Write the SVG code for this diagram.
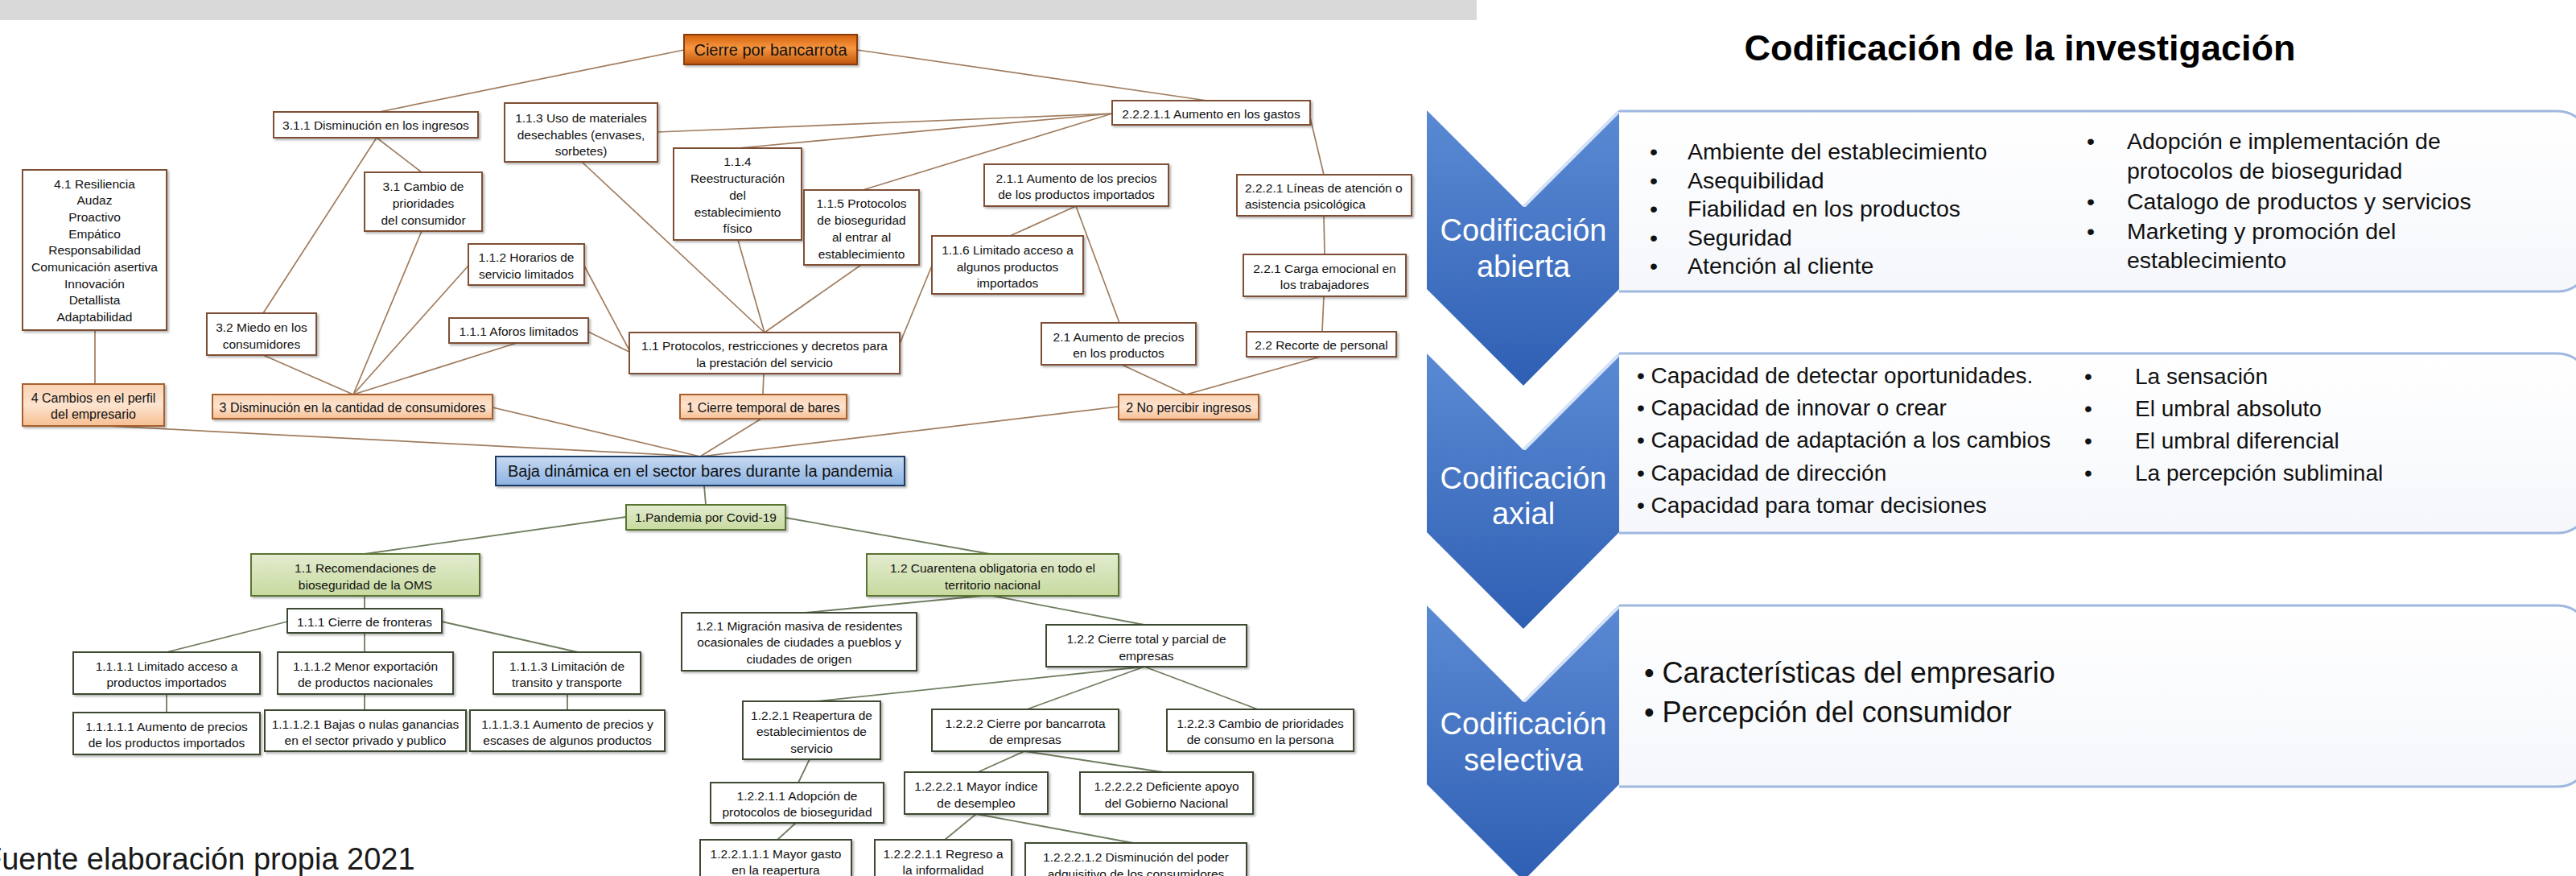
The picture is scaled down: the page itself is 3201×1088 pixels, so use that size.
<svg xmlns="http://www.w3.org/2000/svg" width="3201" height="1088" viewBox="0 0 3201 1088">
<style>
text{font-family:"Liberation Sans",Arial,sans-serif;fill:#111}
.t{font-size:15.5px;text-anchor:middle}
.tl{font-size:15.5px;text-anchor:start}
.t16{font-size:16px;text-anchor:middle}
.t20{font-size:20px;text-anchor:middle}
.b{fill:#fff;stroke:#7f4f35;stroke-width:2}
.o{fill:url(#gOrange);stroke:#8a3b0c;stroke-width:2}
.lo{fill:url(#gLO);stroke:#a8602e;stroke-width:2}
.bl{fill:url(#gBlue);stroke:#1f3a66;stroke-width:2}
.gr{fill:url(#gGreen);stroke:#5a7431;stroke-width:2}
.w{fill:#fff;stroke:#3d4a33;stroke-width:2}
rect.b,rect.o,rect.lo,rect.bl,rect.gr,rect.w{filter:url(#sh)}
.c1{stroke:#a07c5e;stroke-width:1.7;fill:none}
.c2{stroke:#6f7d60;stroke-width:1.8;fill:none}
.chev{fill:url(#gChev)}
.hl{stroke:#d3e2f6;stroke-width:4;fill:none;stroke-linecap:round}
.pbox{fill:url(#gBox);stroke:#9fb8e0;stroke-width:3}
.lab{font-size:38px;fill:#fff;text-anchor:middle}
.r28{font-size:28.5px}
.r28b{font-size:28px}
.r36{font-size:36px}
.bul{text-anchor:middle}
</style>
<defs>
<filter id="sh" x="-10%" y="-20%" width="130%" height="160%"><feDropShadow dx="2" dy="2" stdDeviation="1.5" flood-color="#000" flood-opacity="0.3"/></filter>
<linearGradient id="gOrange" x1="0" y1="0" x2="0" y2="1"><stop offset="0" stop-color="#d4620f"/><stop offset="0.45" stop-color="#f7963f"/><stop offset="1" stop-color="#c0550c"/></linearGradient>
<linearGradient id="gLO" x1="0" y1="0" x2="0" y2="1"><stop offset="0" stop-color="#fbd3b3"/><stop offset="0.5" stop-color="#fde3cf"/><stop offset="1" stop-color="#f7bf92"/></linearGradient>
<linearGradient id="gBlue" x1="0" y1="0" x2="0" y2="1"><stop offset="0" stop-color="#c6d9f1"/><stop offset="1" stop-color="#8db3e2"/></linearGradient>
<linearGradient id="gGreen" x1="0" y1="0" x2="0" y2="1"><stop offset="0" stop-color="#e3ecd0"/><stop offset="1" stop-color="#c8da9f"/></linearGradient>
<linearGradient id="gChev" x1="0" y1="0" x2="0" y2="1"><stop offset="0" stop-color="#5b8ad4"/><stop offset="1" stop-color="#2f5fb3"/></linearGradient>
<linearGradient id="gBox" x1="0" y1="0" x2="0" y2="1"><stop offset="0" stop-color="#ffffff"/><stop offset="1" stop-color="#f5f7fb"/></linearGradient>
</defs>

<rect x="0" y="0" width="1835" height="25" fill="#d9d9d9"/>

<g id="connectors">
<line class="c1" x1="850" y1="62" x2="471" y2="139"/>
<line class="c1" x1="1065" y1="62" x2="1500" y2="125"/>
<line class="c1" x1="1382" y1="141" x2="817" y2="164"/>
<line class="c1" x1="1382" y1="141" x2="917" y2="184"/>
<line class="c1" x1="1382" y1="141" x2="1072" y2="236"/>
<line class="c1" x1="1628" y1="146" x2="1645" y2="217"/>
<line class="c1" x1="1645" y1="268" x2="1646" y2="316"/>
<line class="c1" x1="1645" y1="368" x2="1643" y2="412"/>
<line class="c1" x1="1337" y1="256" x2="1255" y2="293"/>
<line class="c1" x1="1337" y1="256" x2="1391" y2="401"/>
<line class="c1" x1="468" y1="171" x2="327" y2="389"/>
<line class="c1" x1="468" y1="171" x2="524" y2="214"/>
<line class="c1" x1="524" y1="287" x2="439" y2="490"/>
<line class="c1" x1="327" y1="441" x2="439" y2="490"/>
<line class="c1" x1="642" y1="426" x2="439" y2="490"/>
<line class="c1" x1="582" y1="330" x2="439" y2="490"/>
<line class="c1" x1="726" y1="330" x2="782" y2="435"/>
<line class="c1" x1="731" y1="412" x2="782" y2="437"/>
<line class="c1" x1="723" y1="201" x2="950" y2="413"/>
<line class="c1" x1="917" y1="298" x2="950" y2="413"/>
<line class="c1" x1="1070" y1="329" x2="950" y2="413"/>
<line class="c1" x1="1158" y1="330" x2="1118" y2="427"/>
<line class="c1" x1="949" y1="464" x2="948" y2="490"/>
<line class="c1" x1="1394" y1="453" x2="1474" y2="490"/>
<line class="c1" x1="1641" y1="443" x2="1474" y2="490"/>
<line class="c1" x1="118" y1="410" x2="118" y2="477"/>
<line class="c1" x1="132" y1="529" x2="870" y2="567"/>
<line class="c1" x1="612" y1="506" x2="870" y2="567"/>
<line class="c1" x1="946" y1="520" x2="870" y2="567"/>
<line class="c1" x1="1390" y1="505" x2="870" y2="567"/>
<line class="c2" x1="875" y1="603" x2="877" y2="627"/>
<line class="c2" x1="778" y1="642" x2="453" y2="688"/>
<line class="c2" x1="976" y1="643" x2="1230" y2="688"/>
<line class="c2" x1="453" y1="740" x2="453" y2="756"/>
<line class="c2" x1="357" y1="772" x2="207" y2="810"/>
<line class="c2" x1="453" y1="786" x2="453" y2="810"/>
<line class="c2" x1="549" y1="772" x2="718" y2="810"/>
<line class="c2" x1="207" y1="862" x2="207" y2="885"/>
<line class="c2" x1="453" y1="862" x2="453" y2="882"/>
<line class="c2" x1="705" y1="862" x2="705" y2="882"/>
<line class="c2" x1="1221" y1="740" x2="1000" y2="761"/>
<line class="c2" x1="1233" y1="740" x2="1422" y2="776"/>
<line class="c2" x1="1422" y1="828" x2="1015" y2="871"/>
<line class="c2" x1="1422" y1="828" x2="1276" y2="881"/>
<line class="c2" x1="1422" y1="828" x2="1563" y2="881"/>
<line class="c2" x1="1006" y1="943" x2="992" y2="972"/>
<line class="c2" x1="989" y1="1022" x2="966" y2="1043"/>
<line class="c2" x1="1273" y1="933" x2="1215" y2="959"/>
<line class="c2" x1="1273" y1="933" x2="1445" y2="959"/>
<line class="c2" x1="1213" y1="1011" x2="1174" y2="1043"/>
<line class="c2" x1="1213" y1="1011" x2="1408" y2="1047"/>
</g>

<g id="n-cierre-bancarrota"><rect class="o" x="850" y="43" width="215" height="37"/><text class="t20" x="957.5" y="69">Cierre por bancarrota</text></g>
<g id="n-311"><rect class="b" x="340" y="139" width="254" height="32"/><text class="t" x="467" y="160.5">3.1.1 Disminución en los ingresos</text></g>
<g id="n-113"><rect class="b" x="627" y="128" width="190" height="73"/><text class="t"><tspan x="722" y="151.5">1.1.3 Uso de materiales</tspan><tspan x="722" y="172.5">desechables (envases,</tspan><tspan x="722" y="192.5">sorbetes)</tspan></text></g>
<g id="n-41"><rect class="b" x="28" y="211" width="179" height="199"/><text class="t"><tspan x="117.5" y="233.5">4.1 Resiliencia</tspan><tspan x="117.5" y="254">Audaz</tspan><tspan x="117.5" y="274.5">Proactivo</tspan><tspan x="117.5" y="295.5">Empático</tspan><tspan x="117.5" y="316">Responsabilidad</tspan><tspan x="117.5" y="336.5">Comunicación asertiva</tspan><tspan x="117.5" y="357.5">Innovación</tspan><tspan x="117.5" y="378">Detallista</tspan><tspan x="117.5" y="398.5">Adaptabilidad</tspan></text></g>
<g id="n-31"><rect class="b" x="453" y="214" width="146" height="73"/><text class="t"><tspan x="526" y="236.5">3.1 Cambio de</tspan><tspan x="526" y="257.5">prioridades</tspan><tspan x="526" y="278.5">del consumidor</tspan></text></g>
<g id="n-112"><rect class="b" x="582" y="303" width="144" height="51"/><text class="t"><tspan x="654" y="324.5">1.1.2 Horarios de</tspan><tspan x="654" y="345.5">servicio limitados</tspan></text></g>
<g id="n-114"><rect class="b" x="837" y="184" width="159" height="114"/><text class="t"><tspan x="916.5" y="205.5">1.1.4</tspan><tspan x="916.5" y="226.5">Reestructuración</tspan><tspan x="916.5" y="247.5">del</tspan><tspan x="916.5" y="268.5">establecimiento</tspan><tspan x="916.5" y="288.5">físico</tspan></text></g>
<g id="n-115"><rect class="b" x="999" y="236" width="143" height="93"/><text class="t"><tspan x="1070.5" y="257.5">1.1.5 Protocolos</tspan><tspan x="1070.5" y="278.5">de bioseguridad</tspan><tspan x="1070.5" y="299.5">al entrar al</tspan><tspan x="1070.5" y="320.5">establecimiento</tspan></text></g>
<g id="n-22211"><rect class="b" x="1382" y="125" width="246" height="30"/><text class="t" x="1505" y="146.5">2.2.2.1.1 Aumento en los gastos</text></g>
<g id="n-211"><rect class="b" x="1223" y="204" width="229" height="52"/><text class="t"><tspan x="1337.5" y="226.5">2.1.1 Aumento de los precios</tspan><tspan x="1337.5" y="246.5">de los productos importados</tspan></text></g>
<g id="n-2221"><rect class="b" x="1537" y="217" width="217" height="51"/><text class="tl"><tspan x="1547" y="238.5">2.2.2.1 Líneas de atención o</tspan><tspan x="1547" y="258.5">asistencia psicológica</tspan></text></g>
<g id="n-116"><rect class="b" x="1158" y="293" width="188" height="72"/><text class="t"><tspan x="1252" y="315.5">1.1.6 Limitado acceso a</tspan><tspan x="1252" y="336.5">algunos productos</tspan><tspan x="1252" y="356.5">importados</tspan></text></g>
<g id="n-221"><rect class="b" x="1545" y="316" width="202" height="52"/><text class="t"><tspan x="1646" y="338.5">2.2.1 Carga emocional en</tspan><tspan x="1646" y="358.5">los trabajadores</tspan></text></g>
<g id="n-32"><rect class="b" x="257" y="389" width="136" height="52"/><text class="t"><tspan x="325" y="411.5">3.2 Miedo en los</tspan><tspan x="325" y="432.5">consumidores</tspan></text></g>
<g id="n-111-aforos"><rect class="b" x="558" y="395" width="173" height="31"/><text class="t" x="644.5" y="416.5">1.1.1 Aforos limitados</text></g>
<g id="n-11-protocolos"><rect class="b" x="782" y="413" width="336" height="51"/><text class="t"><tspan x="950" y="434.5">1.1 Protocolos, restricciones y decretos para</tspan><tspan x="950" y="455.5">la prestación del servicio</tspan></text></g>
<g id="n-21"><rect class="b" x="1294" y="401" width="192" height="52"/><text class="t"><tspan x="1390" y="423.5">2.1 Aumento de precios</tspan><tspan x="1390" y="443.5">en los productos</tspan></text></g>
<g id="n-22"><rect class="b" x="1549" y="412" width="186" height="31"/><text class="t" x="1642" y="433.5">2.2 Recorte de personal</text></g>
<g id="n-4"><rect class="lo" x="28" y="477" width="176" height="52"/><text class="t16"><tspan x="116" y="499.7">4 Cambios en el perfil</tspan><tspan x="116" y="519.7">del empresario</tspan></text></g>
<g id="n-3"><rect class="lo" x="264" y="490" width="348" height="30"/><text class="t16" x="438" y="511.7">3 Disminución en la cantidad de consumidores</text></g>
<g id="n-1"><rect class="lo" x="845" y="490" width="207" height="30"/><text class="t16" x="948.5" y="511.7">1 Cierre temporal de bares</text></g>
<g id="n-2"><rect class="lo" x="1390" y="490" width="174" height="31"/><text class="t16" x="1477" y="511.7">2 No percibir ingresos</text></g>
<g id="n-baja"><rect class="bl" x="616" y="567" width="508" height="36"/><text class="t20" x="870" y="592">Baja dinámica en el sector bares durante la pandemia</text></g>
<g id="n-pandemia"><rect class="gr" x="778" y="627" width="198" height="31"/><text class="t" x="877" y="648">1.Pandemia por Covid-19</text></g>

<g id="n-11-recom"><rect class="gr" x="312" y="688" width="284" height="52"/><text class="t"><tspan x="454" y="710.5">1.1 Recomendaciones de</tspan><tspan x="454" y="731.5">bioseguridad de la OMS</tspan></text></g>
<g id="n-12-cuarentena"><rect class="gr" x="1077" y="688" width="313" height="52"/><text class="t"><tspan x="1233.5" y="710.5">1.2 Cuarentena obligatoria en todo el</tspan><tspan x="1233.5" y="731.5">territorio nacional</tspan></text></g>
<g id="n-111-fronteras"><rect class="w" x="357" y="756" width="192" height="30"/><text class="t" x="453" y="777.5">1.1.1 Cierre de fronteras</text></g>
<g id="n-1111"><rect class="w" x="91" y="810" width="232" height="52"/><text class="t"><tspan x="207" y="832.5">1.1.1.1 Limitado acceso a</tspan><tspan x="207" y="852.5">productos importados</tspan></text></g>
<g id="n-1112"><rect class="w" x="345" y="810" width="218" height="52"/><text class="t"><tspan x="454" y="832.5">1.1.1.2 Menor exportación</tspan><tspan x="454" y="852.5">de productos nacionales</tspan></text></g>
<g id="n-1113"><rect class="w" x="613" y="810" width="183" height="52"/><text class="t"><tspan x="704.5" y="832.5">1.1.1.3 Limitación de</tspan><tspan x="704.5" y="852.5">transito y transporte</tspan></text></g>
<g id="n-11111"><rect class="w" x="91" y="885" width="232" height="52"/><text class="t"><tspan x="207" y="907.5">1.1.1.1.1 Aumento de precios</tspan><tspan x="207" y="927.5">de los productos importados</tspan></text></g>
<g id="n-11121"><rect class="w" x="329" y="882" width="250" height="51"/><text class="t"><tspan x="454" y="904.5">1.1.1.2.1 Bajas o nulas ganancias</tspan><tspan x="454" y="924.5">en el sector privado y publico</tspan></text></g>
<g id="n-11131"><rect class="w" x="584" y="882" width="242" height="51"/><text class="t"><tspan x="705" y="904.5">1.1.1.3.1 Aumento de precios y</tspan><tspan x="705" y="924.5">escases de algunos productos</tspan></text></g>
<g id="n-121"><rect class="w" x="847" y="761" width="292" height="72"/><text class="t"><tspan x="993" y="782.5">1.2.1 Migración masiva de residentes</tspan><tspan x="993" y="802.5">ocasionales de ciudades a pueblos y</tspan><tspan x="993" y="823.5">ciudades de origen</tspan></text></g>
<g id="n-122"><rect class="w" x="1300" y="776" width="249" height="52"/><text class="t"><tspan x="1424.5" y="798.5">1.2.2 Cierre total y parcial de</tspan><tspan x="1424.5" y="819.5">empresas</tspan></text></g>
<g id="n-1221"><rect class="w" x="923" y="871" width="171" height="72"/><text class="t"><tspan x="1008.5" y="893.5">1.2.2.1 Reapertura de</tspan><tspan x="1008.5" y="913.5">establecimientos de</tspan><tspan x="1008.5" y="934.5">servicio</tspan></text></g>
<g id="n-1222"><rect class="w" x="1158" y="881" width="232" height="52"/><text class="t"><tspan x="1274" y="903.5">1.2.2.2 Cierre por bancarrota</tspan><tspan x="1274" y="923.5">de empresas</tspan></text></g>
<g id="n-1223"><rect class="w" x="1450" y="881" width="232" height="52"/><text class="t"><tspan x="1566" y="903.5">1.2.2.3 Cambio de prioridades</tspan><tspan x="1566" y="923.5">de consumo en la persona</tspan></text></g>
<g id="n-12211"><rect class="w" x="883" y="972" width="215" height="50"/><text class="t"><tspan x="990.5" y="993.5">1.2.2.1.1 Adopción de</tspan><tspan x="990.5" y="1013.5">protocolos de bioseguridad</tspan></text></g>
<g id="n-12221"><rect class="w" x="1124" y="959" width="178" height="52"/><text class="t"><tspan x="1213" y="981.5">1.2.2.2.1 Mayor índice</tspan><tspan x="1213" y="1002.5">de desempleo</tspan></text></g>
<g id="n-12222"><rect class="w" x="1342" y="959" width="215" height="52"/><text class="t"><tspan x="1449.5" y="981.5">1.2.2.2.2 Deficiente apoyo</tspan><tspan x="1449.5" y="1002.5">del Gobierno Nacional</tspan></text></g>
<g id="n-122111"><rect class="w" x="870" y="1043" width="188" height="57"/><text class="t"><tspan x="964" y="1065.5">1.2.2.1.1.1 Mayor gasto</tspan><tspan x="964" y="1085.5">en la reapertura</tspan></text></g>
<g id="n-122211"><rect class="w" x="1087" y="1043" width="170" height="57"/><text class="t"><tspan x="1172" y="1065.5">1.2.2.2.1.1 Regreso a</tspan><tspan x="1172" y="1085.5">la informalidad</tspan></text></g>
<g id="n-122212"><rect class="w" x="1274" y="1047" width="275" height="57"/><text class="t"><tspan x="1411.5" y="1069.5">1.2.2.2.1.2 Disminución del poder</tspan><tspan x="1411.5" y="1090.5">adquisitivo de los consumidores</tspan></text></g>

<text x="-21" y="1080" style="font-size:38px;fill:#1a1a1a">Fuente elaboración propia 2021</text>

<g id="title"><text x="2510" y="75" style="font-size:45px;font-weight:bold;text-anchor:middle;fill:#000">Codificación de la investigación</text></g>

<g id="stage-abierta">
<path class="pbox" d="M2012,138 H3178 A40,40 0 0 1 3218,178 V322 A40,40 0 0 1 3178,362 H2012"/>
<path class="chev" d="M1773,137 L1893,257 L2012,137 L2012,359 L1893,479 L1773,359 Z"/>
<path class="hl" d="M1895,255 L2010,140"/>
<text class="lab"><tspan x="1893" y="299">Codificación</tspan><tspan x="1893" y="344">abierta</tspan></text>
<g class="r28"><text class="bul" x="2055" y="198">•</text><text x="2097" y="198">Ambiente del establecimiento</text>
<text class="bul" x="2055" y="233.5">•</text><text x="2097" y="233.5">Asequibilidad</text>
<text class="bul" x="2055" y="269">•</text><text x="2097" y="269">Fiabilidad en los productos</text>
<text class="bul" x="2055" y="304.5">•</text><text x="2097" y="304.5">Seguridad</text>
<text class="bul" x="2055" y="340">•</text><text x="2097" y="340">Atención al cliente</text>
<text class="bul" x="2598" y="185">•</text><text x="2643" y="185">Adopción e implementación de</text>
<text x="2643" y="222">protocolos de bioseguridad</text>
<text class="bul" x="2598" y="260">•</text><text x="2643" y="260">Catalogo de productos y servicios</text>
<text class="bul" x="2598" y="297">•</text><text x="2643" y="297">Marketing y promoción del</text>
<text x="2643" y="333">establecimiento</text></g>
</g>

<g id="stage-axial">
<path class="pbox" d="M2012,439 H3178 A40,40 0 0 1 3218,479 V622 A40,40 0 0 1 3178,662 H2012"/>
<path class="chev" d="M1773,439 L1893,559 L2012,439 L2012,661 L1893,781 L1773,661 Z"/>
<path class="hl" d="M1895,557 L2010,442"/>
<text class="lab"><tspan x="1893" y="607">Codificación</tspan><tspan x="1893" y="651">axial</tspan></text>
<g class="r28b"><text x="2034" y="476">• Capacidad de detectar oportunidades.</text>
<text x="2034" y="516">• Capacidad de innovar o crear</text>
<text x="2034" y="556">• Capacidad de adaptación a los cambios</text>
<text x="2034" y="597">• Capacidad de dirección</text>
<text x="2034" y="637">• Capacidad para tomar decisiones</text>
<text class="bul" x="2595" y="477">•</text><text x="2653" y="477">La sensación</text>
<text class="bul" x="2595" y="517">•</text><text x="2653" y="517">El umbral absoluto</text>
<text class="bul" x="2595" y="557">•</text><text x="2653" y="557">El umbral diferencial</text>
<text class="bul" x="2595" y="597">•</text><text x="2653" y="597">La percepción subliminal</text></g>
</g>

<g id="stage-selectiva">
<path class="pbox" d="M2012,752 H3178 A40,40 0 0 1 3218,792 V937 A40,40 0 0 1 3178,977 H2012"/>
<path class="chev" d="M1773,752 L1893,872 L2012,752 L2012,974 L1893,1094 L1773,974 Z"/>
<path class="hl" d="M1895,870 L2010,755"/>
<text class="lab"><tspan x="1893" y="912">Codificación</tspan><tspan x="1893" y="957">selectiva</tspan></text>
<g class="r36"><text x="2043" y="848">• Características del empresario</text>
<text x="2043" y="897">• Percepción del consumidor</text></g>
</g>
</svg>
